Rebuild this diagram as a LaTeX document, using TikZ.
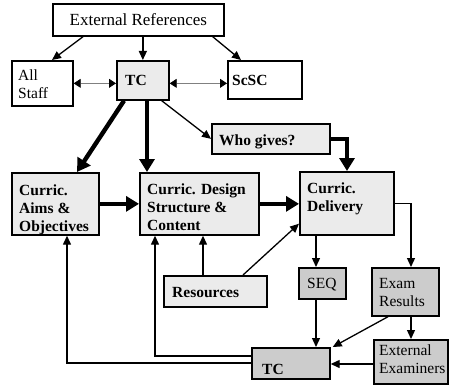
\documentclass[tikz,border=0pt]{standalone}
\usepackage{fontspec}
\setmainfont{Liberation Serif}
\usetikzlibrary{arrows.meta,calc}
\definecolor{boxlite}{RGB}{235,235,235}
\definecolor{boxdark}{RGB}{204,204,204}
\tikzset{
  box/.style={draw, line width=1.7pt, inner sep=0pt, anchor=north west},
  plainbox/.style={box, fill=white},
  litebox/.style={box, fill=boxlite},
  darkbox/.style={box, fill=boxdark},
  lbl/.style={anchor=north west, inner sep=0pt, align=left, font=\fontsize{15.5}{18}\selectfont},
  bflbl/.style={lbl, font=\fontsize{15.5}{18}\selectfont\bfseries},
  thinarrow/.style={line width=1.3pt, -{Triangle[length=9pt,width=8pt]}},
  heavyarrow/.style={line width=4.4pt, -{Triangle[length=13pt,width=15pt]}},
  twoway/.style={draw=gray, line width=0.8pt,
    {Triangle[length=7pt,width=9pt,color=black]}-{Triangle[length=7pt,width=9pt,color=black]}},
}
\begin{document}
\begin{tikzpicture}[x=1pt,y=-1pt]
\useasboundingbox (0,0) rectangle (449,385);

% boxes
\node[plainbox, minimum width=171pt, minimum height=32pt] (ext) at (52,3) {};
\node[plainbox, minimum width=61pt, minimum height=45pt] (staff) at (11,60) {};
\node[litebox, minimum width=52pt, minimum height=39pt] (tc1) at (116,60) {};
\node[plainbox, minimum width=74pt, minimum height=38pt] (scsc) at (227,60) {};
\node[litebox, minimum width=118pt, minimum height=30pt] (who) at (211,123) {};
\node[litebox, minimum width=87pt, minimum height=62pt] (aims) at (11,172) {};
\node[litebox, minimum width=119pt, minimum height=62pt] (design) at (139,172) {};
\node[litebox, minimum width=94pt, minimum height=63pt] (delivery) at (299,171) {};
\node[litebox, minimum width=103pt, minimum height=31pt] (res) at (163,275) {};
\node[darkbox, minimum width=47pt, minimum height=31pt] (seq) at (298,267) {};
\node[darkbox, minimum width=67pt, minimum height=48pt] (exam) at (371,267) {};
\node[darkbox, minimum width=74pt, minimum height=44pt] (extex) at (373,339) {};
\node[darkbox, minimum width=78pt, minimum height=31pt] (tc2) at (251,347) {};

% labels
\node[anchor=center, inner sep=0pt, font=\fontsize{17}{20}\selectfont] (ext-t) at (ext.center) {External References};
\node[lbl] (staff-t) at (18,67.4) {\strut All\\Staff};
\node[bflbl] (tc1-t) at (125,72.4) {\strut TC};
\node[bflbl] (scsc-t) at (232,72.4) {\strut ScSC};
\node[bflbl] (who-t) at (219,132.4) {\strut Who gives?};
\node[bflbl] (aims-t) at (19,182.4) {\strut Curric.\\Aims \&\\Objectives};
\node[bflbl] (design-t) at (147,181.4) {\strut Curric. Design\\Structure \&\\Content};
\node[bflbl] (delivery-t) at (307,180.4) {\strut Curric.\\Delivery};
\node[bflbl] (res-t) at (172,284.4) {\strut Resources};
\node[lbl] (seq-t) at (307,275.4) {\strut SEQ};
\node[lbl] (exam-t) at (379,275.4) {\strut Exam\\Results};
\node[lbl] (extex-t) at (379,342.4) {\strut External\\Examiners};
\node[bflbl] (tc2-t) at (262,361.4) {\strut TC};

% connectors from the top box
\draw[thinarrow] ($(ext.south west)+(31,0)$) -- ($(staff.north west)+(41,0)$);
\draw[thinarrow] (ext.south -| tc1.north) -- (tc1.north);
\draw[thinarrow] ($(ext.south east)+(-12,0)$) -- ($(scsc.north west)+(14,0)$);

% two-way links
\draw[twoway] (staff.east) -- (staff.east -| tc1.west);
\draw[twoway] (tc1.east |- staff.east) -- (scsc.west |- staff.east);

% from TC
\draw[heavyarrow] ($(tc1.south west)+(8,0)$) -- ($(aims.north west)+(66,0)$);
\draw[heavyarrow] ($(tc1.south west)+(31,0)$) coordinate (p) -- (p |- design.north);
\draw[thinarrow] ($(tc1.south east)+(-8,0)$) -- (who.west);
\draw[heavyarrow] (who.east) -| ($(delivery.north west)+(48,0)$);

% main chain
\draw[heavyarrow] (aims.east) -- (aims.east -| design.west);
\draw[heavyarrow] (design.east) -- (design.east -| delivery.west);

% resources
\draw[thinarrow] ($(res.north west)+(40,0)$) coordinate (q) -- (q |- design.south);
\draw[thinarrow] ($(res.north west)+(80,0)$) -- ($(delivery.south west)+(0,-12)$);

% delivery outputs
\draw[thinarrow] ($(delivery.south west)+(17,0)$) coordinate (r) -- (r |- seq.north);
\draw[thinarrow] (delivery.east) -| ($(exam.north west)+(40,0)$);
\draw[thinarrow] (r |- seq.south) -- (r |- tc2.north);
\draw[thinarrow] ($(exam.south west)+(17,0)$) -- ($(tc2.north east)+(2,0)$);
\draw[thinarrow] ($(exam.south west)+(40,0)$) coordinate (s) -- (s |- extex.north);
\draw[thinarrow] ($(extex.north west)+(0,25)$) coordinate (t) -- (t -| tc2.east);

% feedback from the lower TC
\draw[thinarrow] ($(tc2.north west)+(0,16)$) -| ($(aims.south west)+(56,0)$);
\draw[thinarrow] ($(tc2.north west)+(0,9)$) -| ($(design.south west)+(16,0)$);
\end{tikzpicture}
\end{document}
